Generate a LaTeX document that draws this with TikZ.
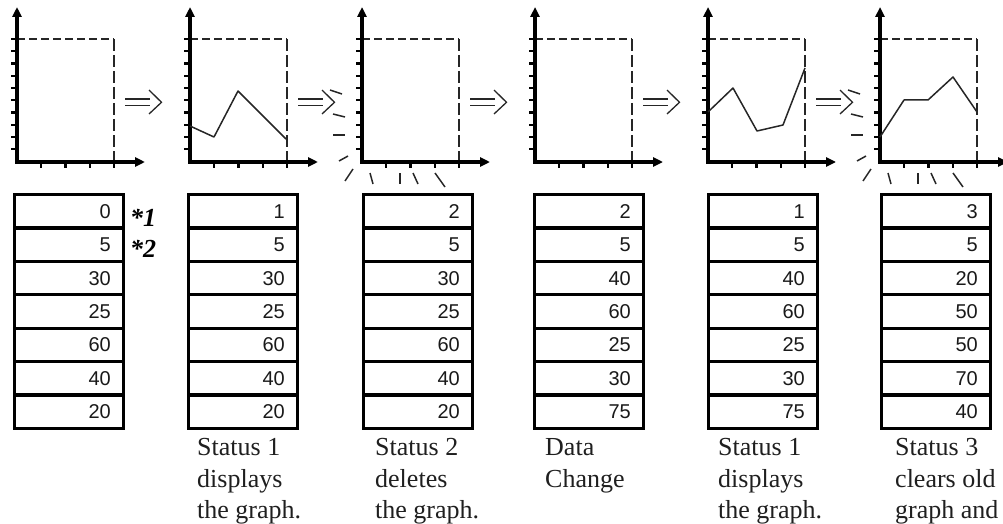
\documentclass[tikz,border=0pt]{standalone}
\usepackage{fontspec}
\setmainfont{Liberation Serif}
\setsansfont{Liberation Sans}
\usetikzlibrary{arrows.meta}
\tikzset{
  axisline/.style={line width=3.3pt, -{Triangle[length=10pt,width=9pt]}},
  tickline/.style={line width=2.2pt},
  dashh/.style={line width=2pt, draw=black!85, dash pattern=on 8pt off 4pt},
  dashv/.style={line width=2pt, draw=black!85, dash pattern=on 12pt off 4pt},
  dataline/.style={line width=1.5pt, draw=black!85, line join=round},
  erasemark/.style={line width=1.5pt, draw=black!85},
  dblarrow/.style={line width=1.3pt, draw=black!85},
  tablebox/.style={line width=3.2pt},
  numtext/.style={anchor=east, inner sep=0pt, font=\sffamily\fontsize{20}{20}\selectfont, text=black!90},
  captext/.style={anchor=base west, inner sep=0pt, font=\fontsize{26}{26}\selectfont, text=black!88},
  startext/.style={anchor=base west, inner sep=0pt, font=\bfseries\itshape\fontsize{26}{26}\selectfont}
}
\begin{document}
\begin{tikzpicture}[x=1pt,y=-1pt]
\useasboundingbox (0,0) rectangle (1003,524);
% graphs
\foreach \x [count=\i] in {17,190,362,535,708,880}{
  \begin{scope}[shift={(\x,0)}]
    \coordinate (o\i) at (0,162);
    \draw[dashh] (0,39) -- (97,39);
    \draw[dashv] (97,39) -- (97,162);
    \foreach \k in {0,...,9} \draw[tickline] (-6,39+12.26*\k) -- (0,39+12.26*\k);
    \foreach \k in {1,...,4} \draw[tickline] (24.25*\k,162) -- (24.25*\k,168);
    \draw[axisline] (0,163.6) -- (0,7);
    \draw[axisline] (-1.6,162) -- (128,162);
  \end{scope}
}
% double arrows between graphs
\foreach \x in {17,190,362,535,708}{
  \begin{scope}[shift={(\x,0)}]
    \draw[dblarrow] (108,99) -- (133,99);
    \draw[dblarrow] (108,105.5) -- (133,105.5);
    \draw[dblarrow] (132,90) -- (144.5,102.3) -- (132,114);
  \end{scope}
}
% data lines
\draw[dataline] (190,126) -- (214,137) -- (238,91) -- (286,139);
\draw[dataline] (708,112) -- (733,88) -- (757,131) -- (783,125) -- (805,68);
\draw[dataline] (880,137) -- (904,100) -- (928,100) -- (953,77) -- (977,112);
% erase marks
\foreach \x in {362,880}{
  \begin{scope}[shift={(\x,162)}]
    \draw[erasemark] (-32,-72) -- (-20,-68);
    \draw[erasemark] (-29,-48) -- (-17,-45);
    \draw[erasemark] (-29,-27) -- (-17,-27);
    \draw[erasemark] (-23,-1) -- (-14,-6);
    \draw[erasemark] (-17,19) -- (-9,7);
    \draw[erasemark] (8,11) -- (11,22);
    \draw[erasemark] (38,11) -- (38,22);
    \draw[erasemark] (51,11) -- (56,22);
    \draw[erasemark] (73,11) -- (83,25);
  \end{scope}
}
% tables
\foreach \tl/\vals [count=\i] in {13/{0,5,30,25,60,40,20},187/{1,5,30,25,60,40,20},362/{2,5,30,25,60,40,20},533/{2,5,40,60,25,30,75},707/{1,5,40,60,25,30,75},880/{3,5,20,50,50,70,40}}{
  \draw[tablebox] (\tl+1.6,194.6) rectangle (\tl+110.4,428.4);
  \foreach \r in {1,...,6} \draw[tablebox] (\tl+1.6,194.6+33.4*\r) -- (\tl+110.4,194.6+33.4*\r);
  \foreach \v [count=\r] in \vals \node[numtext] (t\i-\r) at (\tl+98,194.6+33.4*\r-16.5) {\v};
}
% footnote marks
\node[startext] (s1) at (130,226) {*1};
\node[startext] (s2) at (130,257) {*2};
% captions
\node[captext] (c2a) at (197,455) {Status 1};
\node[captext] (c2b) at (197,487) {displays};
\node[captext] (c2c) at (197,518) {the graph.};
\node[captext] (c3a) at (375,455) {Status 2};
\node[captext] (c3b) at (375,487) {deletes};
\node[captext] (c3c) at (375,518) {the graph.};
\node[captext] (c4a) at (545,455) {Data};
\node[captext] (c4b) at (545,487) {Change};
\node[captext] (c5a) at (718,455) {Status 1};
\node[captext] (c5b) at (718,487) {displays};
\node[captext] (c5c) at (718,518) {the graph.};
\node[captext] (c6a) at (895,455) {Status 3};
\node[captext] (c6b) at (895,487) {clears old};
\node[captext] (c6c) at (895,518) {graph and};
\end{tikzpicture}
\end{document}
